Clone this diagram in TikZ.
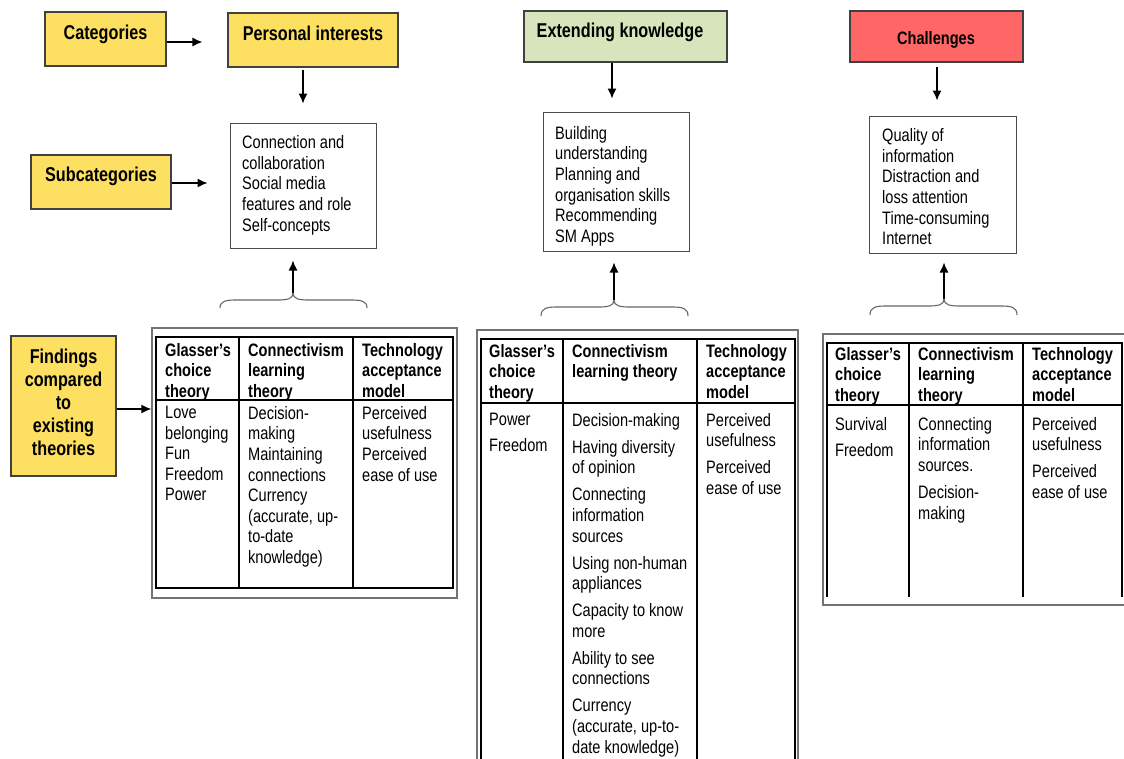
\documentclass[tikz,border=0pt]{standalone}
\usepackage{fontspec}
\setmainfont[FakeStretch=0.81]{Liberation Sans}
\usetikzlibrary{arrows.meta}
\definecolor{ylw}{HTML}{FDE061}
\definecolor{grn}{HTML}{D8E4BC}
\definecolor{rd}{HTML}{FF6666}
\definecolor{edge}{HTML}{404040}
\begin{document}
\begin{tikzpicture}[x=1pt,y=-1pt,
  catbox/.style={draw=edge,line width=1.1pt,inner sep=0,rectangle},
  ttl/.style={font=\bfseries\fontsize{20}{23}\selectfont,inner sep=0,anchor=base,align=center},
  subbox/.style={draw=black!70,line width=1pt,inner sep=0,rectangle},
  body/.style={font=\fontsize{18}{20.6}\selectfont,inner sep=0,anchor=north west,yshift=13pt,align=left},
  head/.style={font=\bfseries\fontsize{18}{20.6}\selectfont,inner sep=0,anchor=north west,yshift=13pt,align=left},
  arr/.style={-{Latex[length=10pt,width=9pt]},line width=1.3pt},
  outer/.style={draw=black!55,line width=1.4pt},
  inner/.style={draw=black,line width=1.1pt},
  brc/.style={draw=black!60,line width=1.1pt}]
\useasboundingbox (0,0) rectangle (1124,758);
\clip (0,0) rectangle (1124,758);

% ---- title boxes
\node[catbox,fill=ylw,minimum width=121pt,minimum height=54pt] (cat) at (105.5,39) {};
\node[ttl] (catt) at (105.5,39) {Categories};
\node[catbox,fill=ylw,minimum width=170pt,minimum height=54pt] (pi) at (313,40) {};
\node[ttl] (pit) at (313,40) {Personal interests};
\node[catbox,fill=ylw,minimum width=140pt,minimum height=54pt] (sub) at (101,182) {};
\node[ttl] (subt) at (101,181.7) {Subcategories};
\node[catbox,fill=ylw,minimum width=105pt,minimum height=140pt] (find) at (63.5,406) {};
\node[ttl,anchor=north,yshift=14.6pt] (findt) at (63.5,363) {Findings\\compared\\to\\existing\\theories};
\node[catbox,fill=grn,minimum width=203pt,minimum height=51pt] (ek) at (625.5,36.5) {};
\node[ttl] (ekt) at (620,37.5) {Extending knowledge};
\node[catbox,fill=rd,minimum width=173pt,minimum height=51pt] (ch) at (936.5,36.5) {};
\node[ttl,font=\bfseries\fontsize{18}{21}\selectfont] (cht) at (936,44) {Challenges};

% ---- subcategory boxes
\node[subbox,minimum width=146pt,minimum height=125pt] (pisub) at (303,185.5) {};
\node[body] (pisubt) at (242,148.5) {Connection and\\collaboration\\Social media\\features and role\\Self-concepts};
\node[subbox,minimum width=146pt,minimum height=139pt] (eksub) at (616,181.5) {};
\node[body] (eksubt) at (555,139) {Building\\understanding\\Planning and\\organisation skills\\Recommending\\SM Apps};
\node[subbox,minimum width=147pt,minimum height=137pt] (chsub) at (942.5,184.5) {};
\node[body] (chsubt) at (882,141.5) {Quality of\\information\\Distraction and\\loss attention\\Time-consuming\\Internet};

% ---- arrows
\draw[arr,shorten >=25pt] (cat.east |- 0,42) -- (pi.west |- 0,42);
\draw[arr,shorten <=2pt,shorten >=19pt] (pisub.north |- pi.south) -- (pisub.north);
\draw[arr,shorten >=22pt] (sub.east |- 0,183) -- (pisub.west |- 0,183);
\draw[arr,shorten >=13pt] (ek.south -| 612,0) -- (eksub.north -| 612,0);
\draw[arr,shorten <=4pt,shorten >=15pt] (ch.south -| 937,0) -- (chsub.north -| 937,0);

% ---- braces
\draw[brc] (220,308) .. controls (220,301) and (226,300) .. (236,300) -- (277,300) .. controls (287,300) and (293,299) .. (293,293) .. controls (293,299) and (299,300) .. (309,300) -- (351,300) .. controls (361,300) and (367,301) .. (367,308);
\coordinate (b1) at (293,293);
\draw[arr,shorten >=12pt] (b1) -- (pisub.south -| b1);

\draw[brc] (541,316) .. controls (541,308) and (547,307) .. (557,307) -- (598,307) .. controls (608,307) and (614,306) .. (614,300) .. controls (614,306) and (620,307) .. (630,307) -- (672,307) .. controls (682,307) and (688,308) .. (688,316);
\coordinate (b2) at (614,300);
\draw[arr,shorten >=11pt] (b2) -- (eksub.south -| b2);

\draw[brc] (870,315) .. controls (870,307) and (876,306) .. (886,306) -- (928,306) .. controls (938,306) and (944,305) .. (944,299) .. controls (944,305) and (950,306) .. (960,306) -- (1001,306) .. controls (1011,306) and (1017,307) .. (1017,315);
\coordinate (b3) at (944,299);
\draw[arr,shorten >=9pt] (b3) -- (chsub.south -| b3);

% ---- table 1
\node[outer,minimum width=305pt,minimum height=270pt,inner sep=0] (t1) at (304.5,463) {};
\draw[arr] (find.east |- 0,409) -- (t1.west |- 0,409);
\draw[inner] (156,337) rectangle (453,588);
\draw[inner] (156,400) -- (453,400);
\draw[inner] (239,337) -- (239,588);
\draw[inner] (353,337) -- (353,588);
\node[head] (t1h1) at (165,356) {Glasser’s\\choice\\theory};
\node[head] (t1h2) at (248,356) {Connectivism\\learning\\theory};
\node[head] (t1h3) at (362,356) {Technology\\acceptance\\model};
\node[body] (t1c1) at (165,419) {Love\\belonging\\Fun\\Freedom\\Power};
\node[body] (t1c2) at (248,419) {Decision-\\making\\Maintaining\\connections\\Currency\\(accurate, up-\\to-date\\knowledge)};
\node[body] (t1c3) at (362,419) {Perceived\\usefulness\\Perceived\\ease of use};

% ---- table 2
\draw[outer] (477,760) -- (477,330) -- (798,330) -- (798,760);
\draw[inner] (481,760) -- (481,339) -- (795,339) -- (795,760);
\draw[inner] (481,403) -- (795,403);
\draw[inner] (563,339) -- (563,760);
\draw[inner] (697,339) -- (697,760);
\node[head] (t2h1) at (489,357) {Glasser’s\\choice\\theory};
\node[head] (t2h2) at (572,357) {Connectivism\\learning theory};
\node[head] (t2h3) at (706,357) {Technology\\acceptance\\model};
\node[body] (t2c1) at (489,426) {Power\\[5.4pt]Freedom};
\node[body] (t2c2) at (572,426) {Decision-making\\[6.4pt]Having diversity\\of opinion\\[6.4pt]Connecting\\information\\sources\\[6.4pt]Using non-human\\appliances\\[6.4pt]Capacity to know\\more\\[6.4pt]Ability to see\\connections\\[6.4pt]Currency\\(accurate, up-to-\\date knowledge)};
\node[body] (t2c3) at (706,426) {Perceived\\usefulness\\[6.4pt]Perceived\\ease of use};

% ---- table 3
\draw[outer] (1126,334) -- (823,334) -- (823,605) -- (1126,605);
\draw[inner] (827,597) -- (827,343) -- (1122,343) -- (1122,597);
\draw[inner] (827,405) -- (1122,405);
\draw[inner] (909,343) -- (909,597);
\draw[inner] (1023,343) -- (1023,597);
\node[head] (t3h1) at (835,360) {Glasser’s\\choice\\theory};
\node[head] (t3h2) at (918,360) {Connectivism\\learning\\theory};
\node[head] (t3h3) at (1032,360) {Technology\\acceptance\\model};
\node[body] (t3c1) at (835,430) {Survival\\[5.4pt]Freedom};
\node[body] (t3c2) at (918,430) {Connecting\\information\\sources.\\[6.4pt]Decision-\\making};
\node[body] (t3c3) at (1032,430) {Perceived\\usefulness\\[6.4pt]Perceived\\ease of use};
\end{tikzpicture}
\end{document}
